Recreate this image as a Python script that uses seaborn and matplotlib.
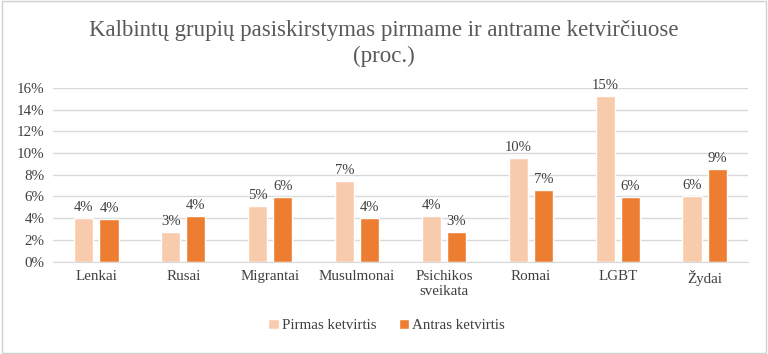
import matplotlib
matplotlib.use("Agg")
import matplotlib.pyplot as plt
import matplotlib.patches as mpatches
import seaborn as sns
import pandas as pd
from matplotlib.ticker import FuncFormatter

# duomenys
groups = ['Lenkai', 'Rusai', 'Migrantai', 'Musulmonai', 'Psichikos\nsveikata',
          'Romai', 'LGBT', 'Žydai']
q1 = [4.0, 2.7, 5.1, 7.4, 4.2, 9.5, 15.2, 6.0]
q2 = [3.95, 4.2, 5.95, 4.0, 2.7, 6.6, 5.95, 8.55]
series = ['Pirmas ketvirtis', 'Antras ketvirtis']
colors = ['#F8CBAD', '#ED7D31']

df = pd.DataFrame({
    'grupe': groups * 2,
    'reiksme': q1 + q2,
    'ketvirtis': [series[0]] * len(groups) + [series[1]] * len(groups),
})

sns.set_style('white')
plt.rcParams['font.family'] = ['Liberation Serif', 'DejaVu Serif']

fig = plt.figure(figsize=(7.68, 3.54), dpi=100)
ax = fig.add_axes([0.069, 0.261, 0.905, 0.491])

sns.barplot(data=df, x='grupe', y='reiksme', hue='ketvirtis', palette=colors,
            saturation=1, width=0.58, gap=0.24, ax=ax, legend=True)

for cont in ax.containers:
    ax.bar_label(cont, labels=[f'{round(v.get_height()):.0f}%' for v in cont],
                 padding=3, fontsize=10.5, color='#404040')

ax.set_ylim(0, 16)
ax.set_yticks(range(0, 17, 2))
ax.yaxis.set_major_formatter(FuncFormatter(lambda v, p: f'{v:.0f}%'))
ax.grid(axis='y', color='#D9D9D9', linewidth=1)
ax.set_axisbelow(True)
for s in ['top', 'right', 'left']:
    ax.spines[s].set_visible(False)
ax.spines['bottom'].set_color('#D9D9D9')
ax.tick_params(axis='both', length=0, labelsize=10.8, labelcolor='#404040', pad=6)
ax.set_xlabel('')
ax.set_ylabel('')
ax.set_xlim(-0.5, len(groups) - 0.5)

ax.legend(loc='upper center', bbox_to_anchor=(0.48, -0.25), ncol=2, frameon=False,
          fontsize=10.8, handlelength=0.7, handleheight=0.7, handletextpad=0.2,
          columnspacing=1.5, labelcolor='#404040')

fig.text(0.5, 0.915, 'Kalbintų grupių pasiskirstymas pirmame ir antrame ketvirčiuose',
         ha='center', va='center', fontsize=16.5, color='#595959')
fig.text(0.5, 0.84, '(proc.)', ha='center', va='center', fontsize=16.5, color='#595959')

fig.patches.append(mpatches.Rectangle((0.002, 0.003), 0.995, 0.994, transform=fig.transFigure,
                                      fill=False, edgecolor='#D0D0D0', linewidth=1))

fig.savefig('out.png', dpi=100)
